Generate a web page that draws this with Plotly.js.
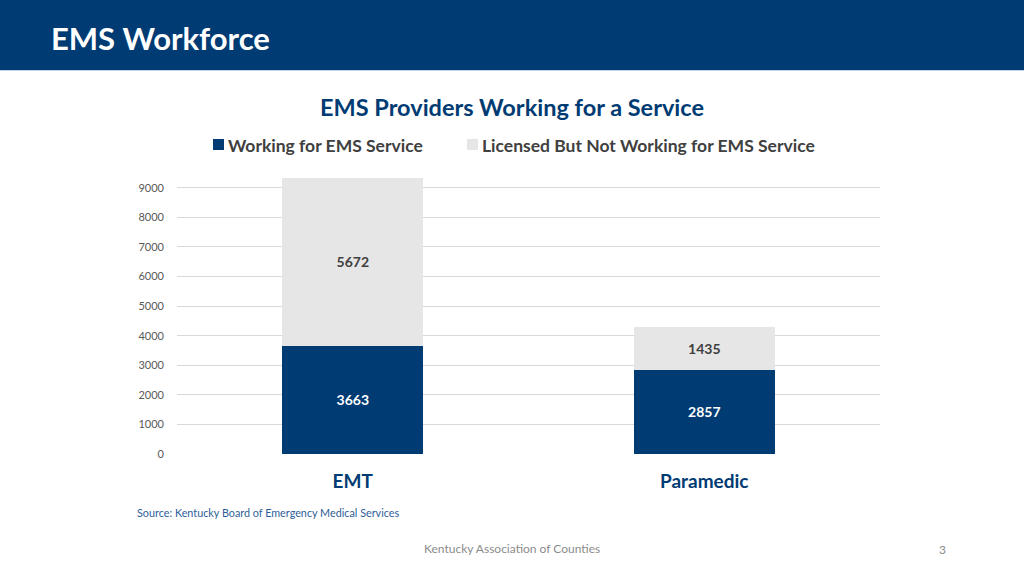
<!DOCTYPE html>
<html><head><meta charset="utf-8">
<script src="https://cdn.plot.ly/plotly-3.0.1.min.js"></script>
<style>html,body{margin:0;padding:0;background:#fff;}#chart{width:1024px;height:576px;}</style>
</head><body><div id="chart"></div>
<script>
const categories = ["EMT", "Paramedic"];
const working = [3663, 2857];
const licensedNotWorking = [5672, 1435];
const seriesNames = ["Working for EMS Service", "Licensed But Not Working for EMS Service"];
const yTicks = [0, 1000, 2000, 3000, 4000, 5000, 6000, 7000, 8000, 9000];

const navy = "#003b73";
const grey = "#e6e6e6";
const font = "Lato, 'Open Sans', sans-serif";

const traces = [
  {type: "bar", name: seriesNames[0], x: categories, y: working,
   marker: {color: navy}, text: working.map(String), textposition: "inside",
   insidetextanchor: "middle", textfont: {color: "#ffffff", size: 14, family: font, weight: 700},
   hoverinfo: "skip"},
  {type: "bar", name: seriesNames[1], x: categories, y: licensedNotWorking,
   marker: {color: grey}, text: licensedNotWorking.map(String), textposition: "inside",
   insidetextanchor: "middle", textfont: {color: "#404040", size: 14, family: font, weight: 700},
   hoverinfo: "skip"}
];

// pixel -> paper helpers (plot area: x 177..880, y 176..454)
const PX = x => (x - 177) / 703;
const PY = y => (454 - y) / 278;

const layout = {
  width: 1024, height: 576,
  margin: {l: 177, r: 144, t: 176, b: 122},
  paper_bgcolor: "#ffffff", plot_bgcolor: "#ffffff",
  barmode: "stack", bargap: 0.6,
  font: {family: font},
  showlegend: false,
  xaxis: {type: "category", showgrid: false, zeroline: false, showline: false, ticks: "",
          tickfont: {size: 19, color: navy, family: font, weight: 700}, ticklabelstandoff: 14},
  yaxis: {range: [0, 9400], tickvals: yTicks, ticktext: yTicks.map(String),
          showgrid: true, gridcolor: "#d9d9d9", gridwidth: 1, zeroline: false, showline: false,
          tickfont: {size: 11, color: "#595959", family: font}, ticklabelstandoff: 12},
  shapes: [
    {type: "rect", xref: "paper", yref: "paper", layer: "below",
     x0: PX(0), x1: PX(1024), y0: PY(70), y1: PY(0), fillcolor: navy, line: {width: 0}},
    {type: "line", xref: "paper", yref: "paper",
     x0: PX(0), x1: PX(1024), y0: PY(70.5), y1: PY(70.5), line: {color: "#bcd3ee", width: 1}},
    // legend swatches
    {type: "rect", xref: "paper", yref: "paper", x0: PX(213), x1: PX(224), y0: PY(150), y1: PY(139),
     fillcolor: navy, line: {width: 0}},
    {type: "rect", xref: "paper", yref: "paper", x0: PX(467), x1: PX(478), y0: PY(150), y1: PY(139),
     fillcolor: grey, line: {width: 0}}
  ],
  annotations: [
    {text: seriesNames[0], xref: "paper", yref: "paper", x: PX(226), y: PY(145),
     xanchor: "left", yanchor: "middle", showarrow: false,
     font: {size: 17.5, color: "#404040", family: font, weight: 700}},
    {text: seriesNames[1], xref: "paper", yref: "paper", x: PX(480), y: PY(145),
     xanchor: "left", yanchor: "middle", showarrow: false,
     font: {size: 17.5, color: "#404040", family: font, weight: 700}},
    {text: "EMS Providers Working for a Service", xref: "paper", yref: "paper",
     x: PX(512), y: PY(107), xanchor: "center", yanchor: "middle", showarrow: false,
     font: {size: 23.5, color: navy, family: font, weight: 700}},
    {text: "Source: Kentucky Board of Emergency Medical Services", xref: "paper", yref: "paper",
     x: PX(135), y: PY(512), xanchor: "left", yanchor: "middle", showarrow: false,
     font: {size: 10.8, color: "#2e5e9a", family: font}},
    {text: "Kentucky Association of Counties", xref: "paper", yref: "paper",
     x: PX(512), y: PY(548), xanchor: "center", yanchor: "middle", showarrow: false,
     font: {size: 12, color: "#8c8c8c", family: font}},
    {text: "3", xref: "paper", yref: "paper",
     x: PX(942), y: PY(549), xanchor: "center", yanchor: "middle", showarrow: false,
     font: {size: 12, color: "#8c8c8c", family: font}},
    {text: "EMS Workforce", xref: "paper", yref: "paper",
     x: PX(49), y: PY(38), xanchor: "left", yanchor: "middle", showarrow: false,
     font: {size: 31, color: "#ffffff", family: font, weight: 700}}
  ]
};

Plotly.newPlot("chart", traces, layout, {displayModeBar: false, staticPlot: true});
</script></body></html>
